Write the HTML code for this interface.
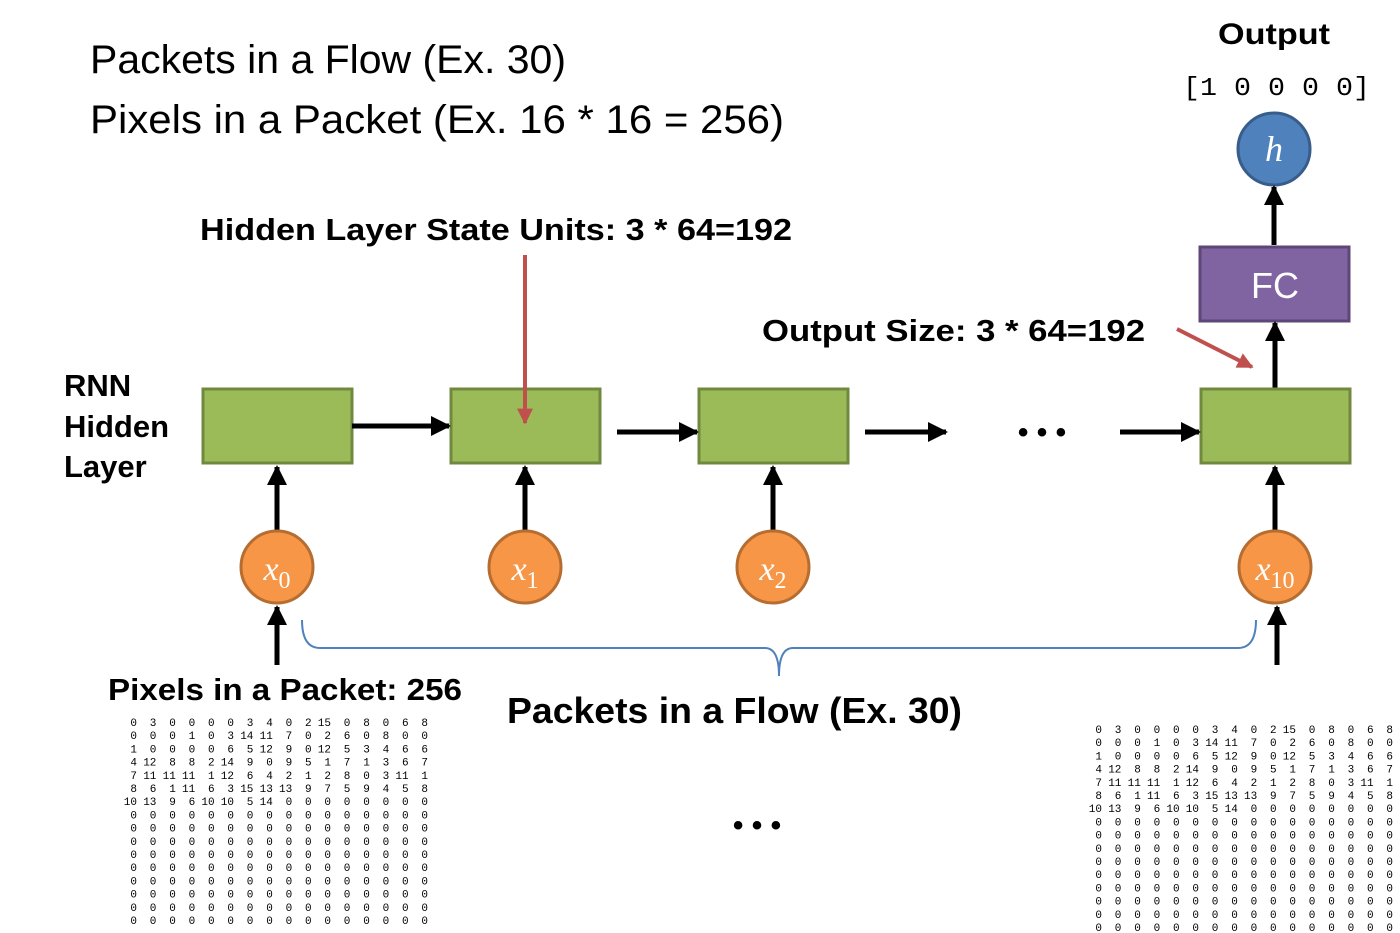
<!DOCTYPE html>
<html><head><meta charset="utf-8"><style>
html,body{margin:0;padding:0;background:#fff;}
svg{display:block;font-family:"Liberation Sans",sans-serif;}
</style></head><body>
<svg id="d" width="1400" height="933" viewBox="0 0 1400 933" xmlns="http://www.w3.org/2000/svg">
<defs>
<marker id="ab" viewBox="0 0 10 10" refX="9" refY="5" markerWidth="4" markerHeight="4" orient="auto-start-reverse"><path d="M0,0L10,5L0,10z" fill="#000"/></marker>
<marker id="ar" viewBox="0 0 10 10" refX="9" refY="5" markerWidth="4" markerHeight="4" orient="auto-start-reverse"><path d="M0,0L10,5L0,10z" fill="#c0504d"/></marker>
</defs>
<text x="90" y="73" font-size="40" textLength="476" lengthAdjust="spacingAndGlyphs">Packets in a Flow (Ex. 30)</text>
<text x="90" y="133" font-size="40" textLength="694" lengthAdjust="spacingAndGlyphs">Pixels in a Packet (Ex. 16 * 16 = 256)</text>
<text x="1218" y="44" font-size="30" font-weight="bold" textLength="112" lengthAdjust="spacingAndGlyphs">Output</text>
<text x="1183" y="95" font-size="26" font-family="Liberation Mono,monospace" textLength="187" lengthAdjust="spacingAndGlyphs">[1 0 0 0 0]</text>
<circle cx="1274" cy="149" r="36" fill="#4f81bd" stroke="#385d8a" stroke-width="3"/>
<text x="1274" y="161" font-size="36" font-style="italic" font-family="Liberation Serif,serif" fill="#fff" text-anchor="middle">h</text>
<line x1="1274" y1="245" x2="1274" y2="187" stroke="#000" stroke-width="5" marker-end="url(#ab)"/>
<rect x="1200" y="247" width="149" height="74" fill="#8064a2" stroke="#5c4776" stroke-width="3"/>
<text x="1275" y="298" font-size="36" fill="#fff" text-anchor="middle">FC</text>
<line x1="1275" y1="388" x2="1275" y2="323" stroke="#000" stroke-width="5" marker-end="url(#ab)"/>
<text x="200" y="240" font-size="31" font-weight="bold" textLength="592" lengthAdjust="spacingAndGlyphs">Hidden Layer State Units: 3 * 64=192</text>
<text x="762" y="341" font-size="31" font-weight="bold" textLength="383" lengthAdjust="spacingAndGlyphs">Output Size: 3 * 64=192</text>
<text font-size="31" font-weight="bold"><tspan x="64" y="396">RNN</tspan><tspan x="64" y="437">Hidden</tspan><tspan x="64" y="477">Layer</tspan></text>
<g id="cells"></g>
<line x1="352" y1="426" x2="449" y2="426" stroke="#000" stroke-width="5" marker-end="url(#ab)"/>
<line x1="617" y1="432" x2="697" y2="432" stroke="#000" stroke-width="5" marker-end="url(#ab)"/>
<line x1="865" y1="432" x2="946" y2="432" stroke="#000" stroke-width="5" marker-end="url(#ab)"/>
<line x1="1120" y1="432" x2="1199" y2="432" stroke="#000" stroke-width="5" marker-end="url(#ab)"/>
<text x="1042" y="442" font-size="30" font-weight="bold" text-anchor="middle">• • •</text>
<line x1="525" y1="255" x2="525" y2="423" stroke="#c0504d" stroke-width="4" marker-end="url(#ar)"/>
<line x1="1177" y1="329" x2="1252" y2="367" stroke="#c0504d" stroke-width="4" marker-end="url(#ar)"/>
<line x1="277" y1="665" x2="277" y2="607" stroke="#000" stroke-width="5" marker-end="url(#ab)"/>
<line x1="1277" y1="665" x2="1277" y2="607" stroke="#000" stroke-width="5" marker-end="url(#ab)"/>
<path d="M302,620 Q302,648 320,648 L765,648 Q779,648 779,676 Q779,648 793,648 L1238,648 Q1256,648 1256,620" fill="none" stroke="#4f81bd" stroke-width="2"/>
<text x="108" y="700" font-size="31" font-weight="bold" textLength="354" lengthAdjust="spacingAndGlyphs">Pixels in a Packet: 256</text>
<text x="507" y="723" font-size="36" font-weight="bold" textLength="455" lengthAdjust="spacingAndGlyphs">Packets in a Flow (Ex. 30)</text>
<text x="757" y="835" font-size="30" font-weight="bold" text-anchor="middle">• • •</text>
<g id="mats" font-family="Liberation Mono,monospace" font-size="11"></g>
</svg>
<script>
const cellX=[277,525,773,1275];
const subs=["0","1","2","10"];
const pixels=[
[0,3,0,0,0,0,3,4,0,2,15,0,8,0,6,8],
[0,0,0,1,0,3,14,11,7,0,2,6,0,8,0,0],
[1,0,0,0,0,6,5,12,9,0,12,5,3,4,6,6],
[4,12,8,8,2,14,9,0,9,5,1,7,1,3,6,7],
[7,11,11,11,1,12,6,4,2,1,2,8,0,3,11,1],
[8,6,1,11,6,3,15,13,13,9,7,5,9,4,5,8],
[10,13,9,6,10,10,5,14,0,0,0,0,0,0,0,0]];
const NS="http://www.w3.org/2000/svg";
const g=document.getElementById('cells');
function mk(t,a,p){const e=document.createElementNS(NS,t);for(const k in a)e.setAttribute(k,a[k]);p.appendChild(e);return e;}
cellX.forEach((cx,i)=>{
 const r=mk('rect',{x:cx-74,y:389,width:149,height:74,fill:'#9bbb59',stroke:'#71893f','stroke-width':3},g);
 
 
 const l=mk('line',{x1:cx,y1:530,x2:cx,y2:467,stroke:'#000','stroke-width':5,'marker-end':'url(#ab)'},g);
 
 
 const c=mk('circle',{cx:cx,cy:567,r:36,fill:'#f79646',stroke:'#b66d31','stroke-width':3},g);
 
 
 const t=mk('text',{x:cx,y:580,'font-size':34,'font-family':'Liberation Serif,serif',fill:'#fff','text-anchor':'middle'},g);
 
 
 t.innerHTML='<tspan font-style="italic">x</tspan><tspan font-size="24" dy="8">'+subs[i]+'</tspan>';
});
const m=document.getElementById('mats');
[[133,722],[1098,729]].forEach(([x0,y0])=>{
 for(let r=0;r<16;r++){
  const row=pixels[r]||new Array(16).fill(0);
  for(let c=0;c<16;c++){
   const t=mk('text',{x:x0+c*19.4+4,y:y0+r*13.2+4,'text-anchor':'end'},m);
   
   
   t.textContent=row[c];
  }
 }
});
</script>
</body></html>
